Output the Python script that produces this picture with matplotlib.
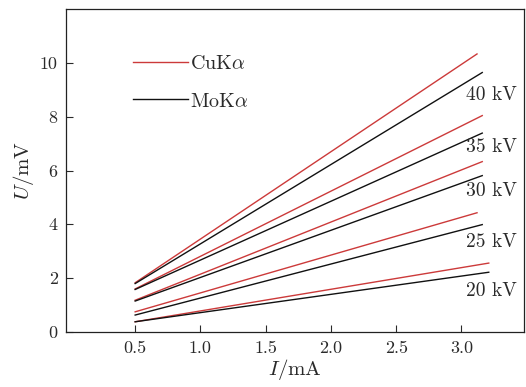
import matplotlib
matplotlib.use("Agg")
import matplotlib.pyplot as plt
from matplotlib.lines import Line2D

plt.rcParams['font.family'] = 'serif'
plt.rcParams['font.serif'] = ['cmr10', 'DejaVu Serif']
plt.rcParams['mathtext.fontset'] = 'cm'
plt.rcParams['axes.formatter.use_mathtext'] = True

voltages = ["20 kV", "25 kV", "30 kV", "35 kV", "40 kV"]
x_start = [0.5, 0.5, 0.5, 0.5, 0.5]
cu_x_end = [3.21, 3.12, 3.16, 3.16, 3.12]
mo_x_end = [3.21, 3.16, 3.16, 3.16, 3.16]
cu_y_start = [0.38, 0.75, 1.18, 1.60, 1.83]
cu_y_end = [2.56, 4.43, 6.33, 8.04, 10.33]
mo_y_start = [0.38, 0.63, 1.15, 1.58, 1.80]
mo_y_end = [2.22, 3.99, 5.81, 7.39, 9.64]
label_y = [1.54, 3.36, 5.22, 6.89, 8.81]
xticks = [0.5, 1.0, 1.5, 2.0, 2.5, 3.0]
yticks = [0, 2, 4, 6, 8, 10]

red = '#cc3a3a'
black = '#111111'
txt = '#2a2a2a'

fig = plt.figure(figsize=(5.26, 3.87), dpi=100)
ax = fig.add_axes([66/526, 1-332/387, 458/526, 323/387])

for i in range(len(voltages)):
    ax.plot([x_start[i], cu_x_end[i]], [cu_y_start[i], cu_y_end[i]], color=red, lw=1.0)
    ax.plot([x_start[i], mo_x_end[i]], [mo_y_start[i], mo_y_end[i]], color=black, lw=1.0)
    ax.text(3.035, label_y[i], voltages[i], fontsize=14, color=txt, va='center', ha='left')

ax.set_xlim(-0.03, 3.48)
ax.set_ylim(0, 12)
ax.set_xticks(xticks)
ax.set_xticklabels([f"{v:.1f}" for v in xticks])
ax.set_yticks(yticks)
ax.set_yticklabels([str(v) for v in yticks])
ax.tick_params(direction='in', length=5, width=0.8, labelsize=13, colors=txt, pad=6)
for s in ax.spines.values():
    s.set_linewidth(0.9)
    s.set_color('#222222')

ax.set_xlabel(r'$I/\mathrm{mA}$', fontsize=15, color=txt, labelpad=1)
ax.set_ylabel(r'$U/\mathrm{mV}$', fontsize=15, color=txt, labelpad=3)

handles = [Line2D([], [], color=red, lw=1.0), Line2D([], [], color=black, lw=1.0)]
ax.legend(handles, [r'$\mathrm{CuK}\alpha$', r'$\mathrm{MoK}\alpha$'], loc='upper left',
          bbox_to_anchor=(0.146, 0.857), frameon=False, borderaxespad=0, borderpad=0,
          handlelength=2.75, handletextpad=0.1, labelspacing=0.95, fontsize=14.5,
          labelcolor=txt)

fig.savefig('out.png', dpi=100)
